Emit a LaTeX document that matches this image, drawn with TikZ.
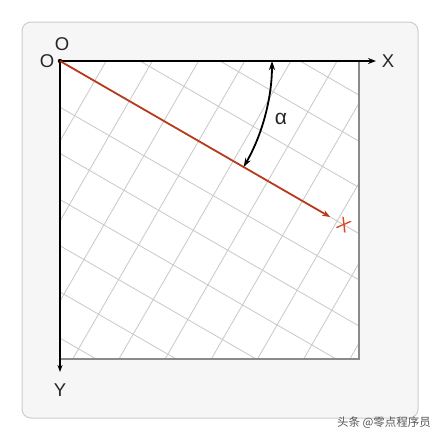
\documentclass[tikz,border=0pt]{standalone}
\usepackage{fontspec}
\setmainfont{Liberation Sans}
\newfontfamily\cjk{Noto Sans CJK SC}
\usetikzlibrary{arrows.meta,calc}
\definecolor{panelfill}{HTML}{F6F6F6}
\definecolor{panelline}{HTML}{CDCDCD}
\definecolor{gridgray}{HTML}{C8C8C8}
\definecolor{boxline}{HTML}{8A8A8A}
\definecolor{redline}{HTML}{B83A1C}
\definecolor{redlabel}{HTML}{D9482A}
\definecolor{wmgray}{HTML}{555555}
\tikzset{
  axis/.style={line width=2.2pt, black},
  gridline/.style={gridgray, line width=0.8pt},
  lbl/.style={font=\fontsize{18.5}{22}\selectfont, inner sep=0pt, text=black!85},
  vecline/.style={redline, line width=1.8pt, -{Stealth[length=8pt,width=6pt]}},
  anglearc/.style={line width=1.8pt, black, {Stealth[length=9pt,width=6pt]}-{Stealth[length=9pt,width=6pt]}},
}
\begin{document}
\begin{tikzpicture}[x=1pt,y=-1pt]
\useasboundingbox (0,0) rectangle (440,440);
\fill[white] (0,0) rectangle (440,440);
% panel
\draw[panelline, fill=panelfill, line width=1pt, rounded corners=9pt] (22,22) rectangle (418,418);
% square
\coordinate (O) at (60,61);
\coordinate (SQ) at (359,359);
\fill[white] (O) rectangle (SQ);
\begin{scope}
  \clip (O) rectangle (SQ);
  \foreach \k in {-12,...,20} {
    \draw[gridline] ({60-20*\k-866},{61+34.64*\k-500}) -- ({60-20*\k+866},{61+34.64*\k+500});
    \draw[gridline] ({60+34.64*\k+500},{61+20*\k-866}) -- ({60+34.64*\k-500},{61+20*\k+866});
  }
\end{scope}
\draw[boxline, line width=1.2pt] (359,61) -- (SQ) -- (60,359);
% axes
\coordinate (Xend) at (376,61);
\coordinate (Yend) at (60,372);
\draw[axis, -{Stealth[length=8pt,width=6pt]}] (O) -- (Xend);
\draw[axis, -{Stealth[length=7pt,width=5pt]}] (O) -- (Yend);
\fill[black] (O) circle (2.2pt);
% labels
\node[lbl] (lx) at (388,61) {X};
\node[lbl] (ly) at (60,390) {Y};
\node[lbl] (lo1) at (47,61) {O};
\node[lbl] (lo2) at (62,44) {O};
% red vector
\coordinate (R) at ($(O)+(30:312)$);
\draw[vecline] (O) -- (R);
\node[lbl, text=redlabel, rotate=-30] (lxr) at (344,225) {X};
% angle arc
\coordinate (A1) at ($(O)+(0:212)$);
\draw[anglearc] (A1) arc[start angle=0, end angle=30, radius=212];
\node[lbl, font=\fontsize{21}{24}\selectfont] (alpha) at (281,119) {α};
% watermark
\node[font=\cjk\fontsize{11.5}{13}\selectfont, text=wmgray, inner sep=0pt] (wm) at (384,423) {头条 @零点程序员};
\end{tikzpicture}
\end{document}
